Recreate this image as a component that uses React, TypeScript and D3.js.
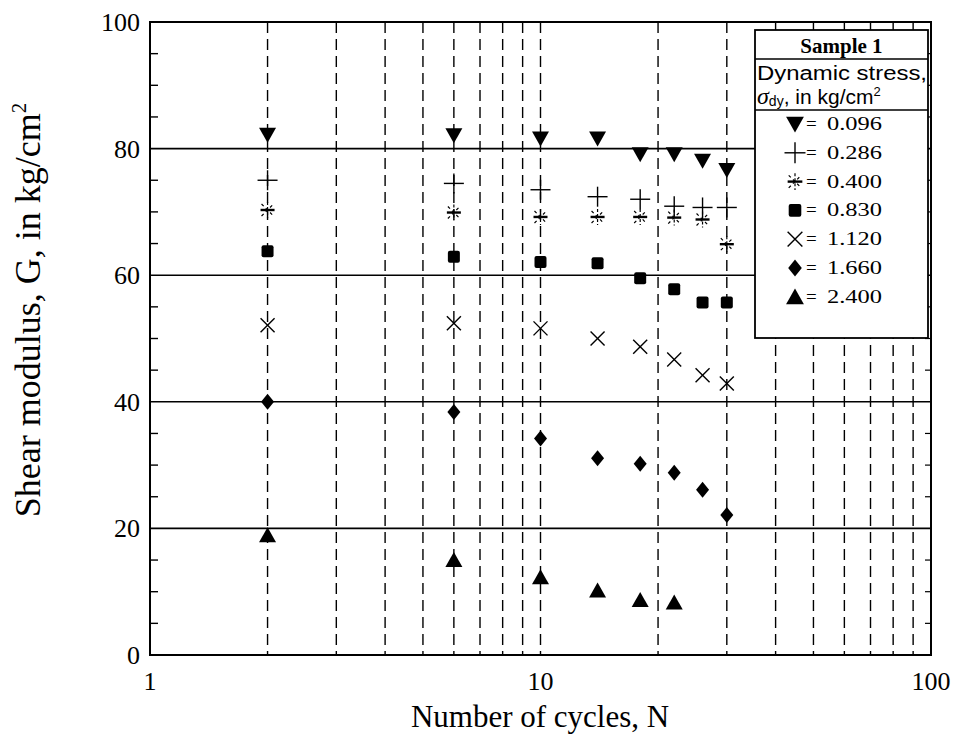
import React from "react";
import * as d3 from "d3";

const cycles = [2, 6, 10, 14, 18, 22, 26, 30];
const g0096 = [82.2, 82.1, 81.6, 81.6, 79.1, 79.1, 78.1, 76.6];
const g0286 = [75.0, 74.5, 73.5, 72.4, 72.0, 70.9, 70.7, 70.7];
const g0400 = [70.3, 69.9, 69.2, 69.2, 69.2, 69.1, 68.8, 64.9];
const g0830 = [63.8, 62.9, 62.1, 61.9, 59.5, 57.8, 55.7, 55.7];
const g1120 = [52.1, 52.4, 51.6, 50.0, 48.7, 46.7, 44.2, 42.9];
const g1660 = [40.0, 38.4, 34.2, 31.1, 30.2, 28.8, 26.1, 22.1];
const g2400 = [18.9, 15.0, 12.3, 10.2, 8.7, 8.3];

const stressLabels = ["0.096", "0.286", "0.400", "0.830", "1.120", "1.660", "2.400"];
const markerKinds = ["tdown", "plus", "star", "square", "cross", "diamond", "tup"];
const seriesValues = [g0096, g0286, g0400, g0830, g1120, g1660, g2400];

const xTickLabels = [1, 10, 100];
const yTicks = [0, 20, 40, 60, 80, 100];
const yGridValues = [20, 40, 60, 80];
const xDashedValues = [2, 3, 4, 5, 6, 7, 8, 9, 10, 20, 30, 40, 50, 60, 70, 80, 90];

const W = 956;
const H = 739;
const L = 150, R = 931, T = 22, B = 655;

function Marker({ kind, x, y, s = 1 }: { kind: string; x: number; y: number; s?: number }) {
  switch (kind) {
    case "tdown":
      return <path d={`M${x - 8.5 * s},${y - 7 * s}L${x + 8.5 * s},${y - 7 * s}L${x},${y + 8 * s}Z`} fill="#000" />;
    case "tup":
      return <path d={`M${x - 8.5 * s},${y + 7 * s}L${x + 8.5 * s},${y + 7 * s}L${x},${y - 8 * s}Z`} fill="#000" />;
    case "square":
      return <rect x={x - 6 * s} y={y - 6 * s} width={12 * s} height={12 * s} rx={2} fill="#000" />;
    case "diamond":
      return <path d={`M${x},${y - 8 * s}L${x + 6.5 * s},${y}L${x},${y + 8 * s}L${x - 6.5 * s},${y}Z`} fill="#000" />;
    case "plus":
      return (
        <g stroke="#000" strokeWidth={1.4}>
          <line x1={x - 10 * s} x2={x + 10 * s} y1={y} y2={y} />
          <line x1={x} x2={x} y1={y - 10 * s} y2={y + 10 * s} />
        </g>
      );
    case "cross":
      return (
        <g stroke="#000" strokeWidth={1.4}>
          <line x1={x - 7 * s} x2={x + 7 * s} y1={y - 7 * s} y2={y + 7 * s} />
          <line x1={x - 7 * s} x2={x + 7 * s} y1={y + 7 * s} y2={y - 7 * s} />
        </g>
      );
    case "star":
      return (
        <g stroke="#000">
          <line x1={x - 7 * s} x2={x + 7 * s} y1={y} y2={y} strokeWidth={2.4} />
          <line x1={x} x2={x} y1={y - 8 * s} y2={y + 8 * s} strokeWidth={1.2} strokeDasharray="3,2" />
          <line x1={x - 6 * s} x2={x + 6 * s} y1={y - 6 * s} y2={y + 6 * s} strokeWidth={1.2} strokeDasharray="3,3" />
          <line x1={x - 6 * s} x2={x + 6 * s} y1={y + 6 * s} y2={y - 6 * s} strokeWidth={1.2} strokeDasharray="3,3" />
        </g>
      );
    default:
      return null;
  }
}

export default function App() {
  const x = d3.scaleLog().domain([1, 100]).range([L, R]);
  const y = d3.scaleLinear().domain([0, 100]).range([B, T]);
  const serif = "'Liberation Serif', 'Times New Roman', serif";
  const sans = "'Liberation Sans', Arial, sans-serif";
  const minorY = d3.range(5, 100, 5).filter((v) => v % 20 !== 0);

  const legX = 755, legR = 928, legT = 30, legB = 338;
  const rowY = (i: number) => 124 + i * 28.8;

  return (
    <svg width={W} height={H} style={{ position: "absolute", left: 0, top: 0, background: "#fff" }}>
      <rect x={0} y={0} width={W} height={H} fill="#fff" />
      {xDashedValues.map((v) => (
        <line key={"v" + v} x1={x(v)} x2={x(v)} y1={T} y2={B} stroke="#000" strokeWidth={1.4} strokeDasharray="11,6" />
      ))}
      {yGridValues.map((v) => (
        <line key={"h" + v} x1={L} x2={R} y1={y(v)} y2={y(v)} stroke="#000" strokeWidth={1.6} />
      ))}
      {minorY.map((v) => (
        <line key={"my" + v} x1={L} x2={L + 8} y1={y(v)} y2={y(v)} stroke="#000" strokeWidth={1.4} />
      ))}
      {minorY.map((v) => (
        <line key={"myr" + v} x1={R} x2={R - 6} y1={y(v)} y2={y(v)} stroke="#000" strokeWidth={1.2} />
      ))}
      <rect x={L} y={T} width={R - L} height={B - T} fill="none" stroke="#000" strokeWidth={2} />
      {yTicks.map((v) => (
        <text key={"yt" + v} x={140} y={y(v) + 9} textAnchor="end" fontFamily={serif} fontSize={26} fill="#000">
          {v}
        </text>
      ))}
      {xTickLabels.map((v) => (
        <text key={"xt" + v} x={x(v)} y={690} textAnchor="middle" fontFamily={serif} fontSize={26} fill="#000">
          {v}
        </text>
      ))}
      <text x={540} y={727} textAnchor="middle" fontFamily={serif} fontSize={31} fill="#000">
        Number of cycles, N
      </text>
      <text
        transform={`translate(40,310) rotate(-90)`}
        textAnchor="middle"
        fontFamily={serif}
        fontSize={36}
        fill="#000"
      >
        Shear modulus, G, in kg/cm
        <tspan dy={-14} fontSize={21}>2</tspan>
      </text>
      {seriesValues.map((vals, si) =>
        vals.map((v, i) => <Marker key={si + "-" + i} kind={markerKinds[si]} x={x(cycles[i])} y={y(v)} />)
      )}
      <rect x={legX} y={legT} width={legR - legX} height={legB - legT} fill="#fff" stroke="#000" strokeWidth={1.8} />
      <line x1={legX} x2={legR} y1={59} y2={59} stroke="#000" strokeWidth={1.6} />
      <line x1={legX} x2={legR} y1={110} y2={110} stroke="#000" strokeWidth={1.6} />
      <text x={(legX + legR) / 2} y={53} textAnchor="middle" fontFamily={serif} fontWeight="bold" fontSize={21} fill="#000">
        Sample 1
      </text>
      <text x={legX + 2} y={80} fontFamily={sans} fontSize={20} textLength={170} lengthAdjust="spacingAndGlyphs" fill="#000">
        Dynamic stress,
      </text>
      <text x={legX + 2} y={104} fontFamily={sans} fontSize={21} fill="#000">
        <tspan fontFamily={serif} fontStyle="italic" fontSize={24}>σ</tspan>
        <tspan fontSize={14} dy={2}>dy</tspan>
        <tspan dy={-2}>, in kg/cm</tspan>
        <tspan fontSize={13} dy={-8}>2</tspan>
      </text>
      {stressLabels.map((s, i) => (
        <g key={"lg" + i}>
          <Marker kind={markerKinds[i]} x={795} y={rowY(i)} s={1.05} />
          <text x={806} y={rowY(i) + 6} fontFamily={serif} fontSize={19} fill="#000">
            =
          </text>
          <text x={827} y={rowY(i) + 6} fontFamily={serif} fontSize={19} textLength={55} lengthAdjust="spacingAndGlyphs" fill="#000">
            {s}
          </text>
        </g>
      ))}
    </svg>
  );
}
